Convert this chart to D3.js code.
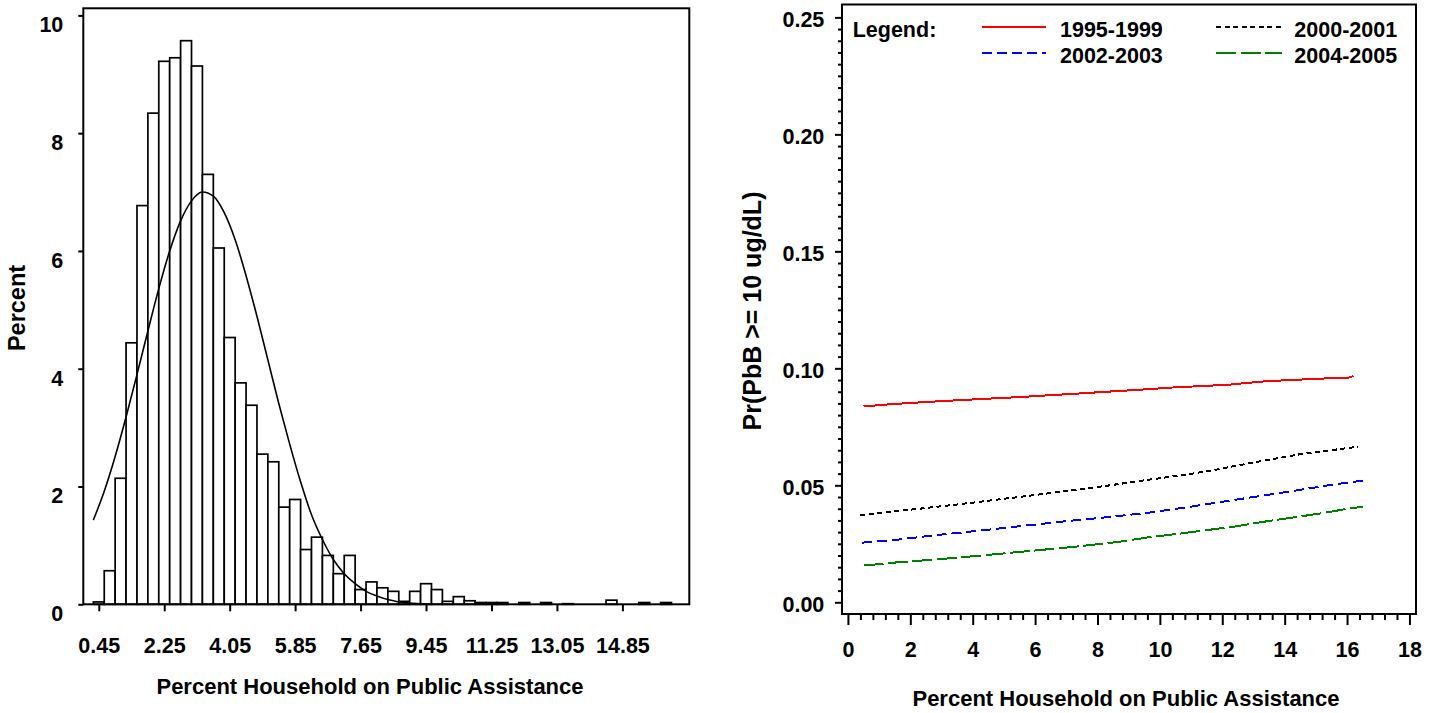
<!DOCTYPE html>
<html>
<head>
<meta charset="utf-8">
<script src="https://cdn.jsdelivr.net/npm/d3@7"></script>
<style>
  html, body { margin: 0; padding: 0; background: #fff; }
  svg { display: block; }
  text { font-family: "Liberation Sans", Arial, sans-serif; font-weight: bold; fill: #000; }
</style>
</head>
<body>
<script>
// ---------- Histogram: percent of households on public assistance ----------
const binWidth = 0.3;
const binMidpoints = [
  0.45, 0.75, 1.05, 1.35, 1.65, 1.95, 2.25, 2.55, 2.85, 3.15,
  3.45, 3.75, 4.05, 4.35, 4.65, 4.95, 5.25, 5.55, 5.85, 6.15,
  6.45, 6.75, 7.05, 7.35, 7.65, 7.95, 8.25, 8.55, 8.85, 9.15,
  9.45, 9.75, 10.05, 10.35, 10.65, 10.95, 11.25, 11.55, 11.85, 12.15,
  12.45, 12.75, 13.05, 13.35, 13.65, 13.95, 14.25, 14.55, 14.85, 15.15,
  15.45, 15.75, 16.05
];
const binPercents = [
  0.04, 0.57, 2.14, 4.44, 6.77, 8.34, 9.22, 9.28, 9.57, 9.14,
  7.30, 6.05, 4.53, 3.76, 3.38, 2.55, 2.42, 1.65, 1.78, 0.93,
  1.14, 0.83, 0.52, 0.83, 0.25, 0.38, 0.28, 0.22, 0.05, 0.22,
  0.35, 0.25, 0.05, 0.13, 0.06, 0.03, 0.03, 0.03, 0, 0.03,
  0, 0.03, 0, 0.01, 0, 0, 0, 0.07, 0, 0,
  0.03, 0, 0.03
];
// fitted density curve overlaid on the histogram
const curveX = [0.30, 0.60, 0.90, 1.20, 1.50, 1.80, 2.10, 2.40, 2.70, 3.00,
                3.30, 3.60, 3.90, 4.20, 4.50, 4.80, 5.10, 5.40, 5.70, 6.00,
                6.30, 6.60, 6.90, 7.20, 7.50, 7.80, 8.10, 8.40, 8.70, 9.00, 9.30, 9.60];
const curveY = [1.43, 1.92, 2.51, 3.18, 3.90, 4.64, 5.36, 6.00, 6.51, 6.85,
                7.00, 6.93, 6.65, 6.19, 5.58, 4.89, 4.15, 3.41, 2.72, 2.08,
                1.52, 1.10, 0.76, 0.52, 0.35, 0.22, 0.14, 0.08, 0.04, 0.02, 0.01, 0.0];
const histXTicks = [0.45, 2.25, 4.05, 5.85, 7.65, 9.45, 11.25, 13.05, 14.85];
const histYTicks = [0, 2, 4, 6, 8, 10];

// ---------- Predicted probability of PbB >= 10 ug/dL by period ----------
const periods = ["1995-1999", "2000-2001", "2002-2003", "2004-2005"];
const pred1995 = [[0.5, 0.0837], [1.2, 0.0845], [2.25, 0.0854], [3.3, 0.0862], [4.3, 0.0869],
  [5.35, 0.0876], [6.35, 0.0884], [7.35, 0.0892], [8.3, 0.0900], [9.3, 0.0908],
  [10.4, 0.0918], [12.2, 0.0930], [13.4, 0.0945], [15.0, 0.0955], [15.9, 0.0960],
  [16.1, 0.0961], [16.2, 0.0968]];
const pred2000 = [[0.4, 0.0373], [1.2, 0.0385], [2.3, 0.0400], [3.75, 0.0422], [5.35, 0.0448],
  [6.8, 0.0472], [8.4, 0.0500], [9.7, 0.0525], [10.7, 0.0543], [11.6, 0.0562],
  [12.9, 0.0595], [14.5, 0.0633], [15.6, 0.0652], [16.35, 0.0665]];
const pred2002 = [[0.45, 0.0255], [1.6, 0.0268], [2.75, 0.0286], [4.05, 0.0304], [5.5, 0.0325],
  [6.95, 0.0346], [8.4, 0.0365], [9.7, 0.0384], [10.55, 0.0400], [11.3, 0.0415],
  [12.4, 0.0438], [13.5, 0.0460], [14.6, 0.0483], [15.5, 0.0502], [16.5, 0.0520]];
const pred2004 = [[0.5, 0.0157], [1.6, 0.0171], [3.0, 0.0185], [4.35, 0.0201], [5.8, 0.0219],
  [7.25, 0.0237], [8.65, 0.0258], [9.7, 0.0279], [10.55, 0.0292], [12.4, 0.0324],
  [13.6, 0.0350], [14.5, 0.0367], [15.3, 0.0383], [16.1, 0.0402], [16.5, 0.0408]];
const predXTicks = [0, 2, 4, 6, 8, 10, 12, 14, 16, 18];
const predYTicks = [0, 0.05, 0.10, 0.15, 0.20, 0.25];

const seriesStyles = [
  { data: pred1995, color: "#ff0000", dash: null },
  { data: pred2000, color: "#000000", dash: "5,3.5" },
  { data: pred2002, color: "#0000ff", dash: "10,5" },
  { data: pred2004, color: "#008000", dash: "20,4.5" }
];

const svg = d3.select("body").append("svg")
  .attr("width", 1437).attr("height", 713);

// ===== Left panel: histogram =====
const hx = d3.scaleLinear().domain([0.024, 16.69]).range([83.3, 689.3]);
const hy = d3.scaleLinear().domain([0, 10.12]).range([604.3, 8.3]);
const left = svg.append("g");

left.append("g").selectAll("rect")
  .data(binMidpoints.map((m, i) => ({ m, v: binPercents[i] })).filter(d => d.v > 0))
  .join("rect")
  .attr("x", d => hx(d.m - binWidth / 2))
  .attr("width", d => hx(d.m + binWidth / 2) - hx(d.m - binWidth / 2))
  .attr("y", d => hy(d.v))
  .attr("height", d => hy(0) - hy(d.v))
  .attr("fill", "#fff")
  .attr("stroke", "#000")
  .attr("stroke-width", 1.7);

left.append("path")
  .datum(curveX.map((x, i) => [x, curveY[i]]))
  .attr("fill", "none")
  .attr("stroke", "#000")
  .attr("stroke-width", 1.6)
  .attr("d", d3.line().x(d => hx(d[0])).y(d => hy(d[1])).curve(d3.curveMonotoneX));

left.append("rect")
  .attr("x", hx.range()[0]).attr("y", hy.range()[1])
  .attr("width", hx.range()[1] - hx.range()[0])
  .attr("height", hy.range()[0] - hy.range()[1])
  .attr("fill", "none").attr("stroke", "#000").attr("stroke-width", 2);

const hYAxis = left.append("g")
  .attr("transform", `translate(${hx.range()[0]},0)`)
  .call(d3.axisLeft(hy).tickValues(histYTicks).tickSize(5).tickPadding(15).tickFormat(d3.format("d")));
hYAxis.select(".domain").remove();
hYAxis.selectAll("line").attr("stroke-width", 2);
hYAxis.selectAll("text").attr("dy", "0.76em").style("font-size", "21.5px")
  .attr("font-family", null);

const hXAxis = left.append("g")
  .attr("transform", `translate(0,${hy.range()[0]})`)
  .call(d3.axisBottom(hx).tickValues(histXTicks).tickSize(7).tickFormat(d3.format(".2f")));
hXAxis.select(".domain").remove();
hXAxis.selectAll("line").attr("stroke-width", 2);
hXAxis.selectAll("text").attr("y", 49).attr("dy", null).style("font-size", "21.5px")
  .attr("font-family", null);

left.append("text")
  .attr("x", 370).attr("y", 694.3)
  .attr("text-anchor", "middle").style("font-size", "22px")
  .text("Percent Household on Public Assistance");
left.append("text")
  .attr("transform", "translate(25,308) rotate(-90)")
  .attr("text-anchor", "middle").style("font-size", "23.5px")
  .text("Percent");

// ===== Right panel: predicted probabilities =====
const px = d3.scaleLinear().domain([-0.19, 18.21]).range([842, 1416]);
const py = d3.scaleLinear().domain([-0.005, 0.2555]).range([614, 4.5]);
const right = svg.append("g");

const line = d3.line().x(d => px(d[0])).y(d => py(d[1]));
right.append("g").selectAll("path")
  .data(seriesStyles)
  .join("path")
  .attr("fill", "none")
  .attr("stroke", d => d.color)
  .attr("stroke-width", 2)
  .attr("stroke-dasharray", d => d.dash)
  .attr("shape-rendering", "crispEdges")
  .attr("d", d => line(d.data));

right.append("rect")
  .attr("x", px.range()[0]).attr("y", py.range()[1])
  .attr("width", px.range()[1] - px.range()[0])
  .attr("height", py.range()[0] - py.range()[1])
  .attr("fill", "none").attr("stroke", "#000").attr("stroke-width", 2);

// minor ticks
const xMinor = d3.range(0, 18.001, 0.4).filter(v => Math.abs(v / 2 - Math.round(v / 2)) > 1e-6);
const yMinor = d3.range(0, 0.2501, 0.005).filter(v => Math.abs(v / 0.05 - Math.round(v / 0.05)) > 1e-6);
const pXMinor = right.append("g")
  .attr("transform", `translate(0,${py.range()[0]})`)
  .call(d3.axisBottom(px).tickValues(xMinor).tickSize(6).tickFormat(""));
pXMinor.select(".domain").remove();
pXMinor.selectAll("line").attr("stroke-width", 2);
const pYMinor = right.append("g")
  .attr("transform", `translate(${px.range()[0]},0)`)
  .call(d3.axisLeft(py).tickValues(yMinor).tickSize(4).tickFormat(""));
pYMinor.select(".domain").remove();
pYMinor.selectAll("line").attr("stroke-width", 2);

const pXAxis = right.append("g")
  .attr("transform", `translate(0,${py.range()[0]})`)
  .call(d3.axisBottom(px).tickValues(predXTicks).tickSize(11).tickFormat(d3.format("d")));
pXAxis.select(".domain").remove();
pXAxis.selectAll("line").attr("stroke-width", 2);
pXAxis.selectAll("text").attr("y", 42.7).attr("dy", null).style("font-size", "21.5px")
  .attr("font-family", null);

const pYAxis = right.append("g")
  .attr("transform", `translate(${px.range()[0]},0)`)
  .call(d3.axisLeft(py).tickValues(predYTicks).tickSize(7).tickPadding(10.7).tickFormat(d3.format(".2f")));
pYAxis.select(".domain").remove();
pYAxis.selectAll("line").attr("stroke-width", 2);
pYAxis.selectAll("text").attr("dy", "0.43em").style("font-size", "21.5px")
  .attr("font-family", null);

right.append("text")
  .attr("x", 1126).attr("y", 706)
  .attr("text-anchor", "middle").style("font-size", "22px")
  .text("Percent Household on Public Assistance");
right.append("text")
  .attr("transform", "translate(761,311) rotate(-90)")
  .attr("text-anchor", "middle").style("font-size", "25px")
  .text("Pr(PbB >= 10 ug/dL)");

// legend
const legend = right.append("g");
legend.append("text").attr("x", 852.7).attr("y", 37.3).style("font-size", "21.5px").text("Legend:");
const legendSlots = [
  { x1: 982.3, x2: 1046, tx: 1060, ly: 26.7, ty: 37.3 },
  { x1: 1216, x2: 1281.7, tx: 1294.3, ly: 26.7, ty: 37.3 },
  { x1: 982.3, x2: 1046, tx: 1060, ly: 52.7, ty: 63.3 },
  { x1: 1216, x2: 1281.7, tx: 1294.3, ly: 52.7, ty: 63.3 }
];
seriesStyles.forEach((s, i) => {
  const slot = legendSlots[i];
  legend.append("line")
    .attr("x1", slot.x1).attr("x2", slot.x2)
    .attr("y1", slot.ly).attr("y2", slot.ly)
    .attr("stroke", s.color).attr("stroke-width", 2)
    .attr("stroke-dasharray", s.dash)
    .attr("shape-rendering", "crispEdges");
  legend.append("text")
    .attr("x", slot.tx).attr("y", slot.ty)
    .style("font-size", "21.5px")
    .text(periods[i]);
});
</script>
</body>
</html>
